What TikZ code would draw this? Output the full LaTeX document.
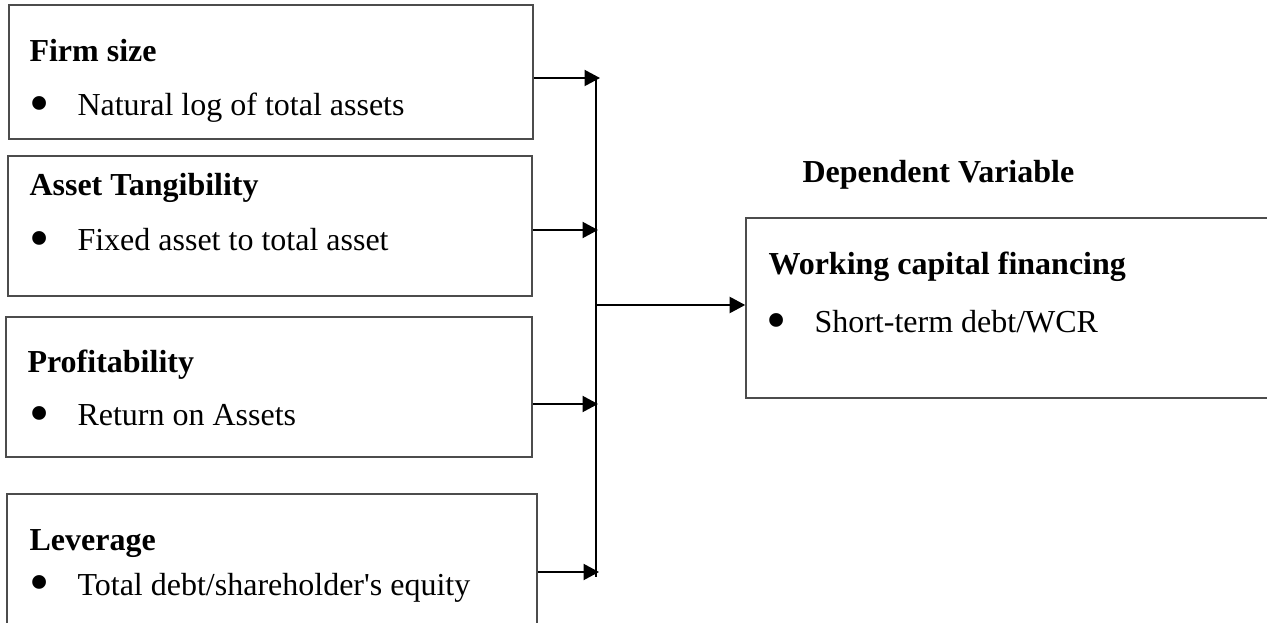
\documentclass[tikz,border=0pt]{standalone}
\usepackage{graphicx}
\usepackage{fontspec}
\setmainfont{Liberation Serif}
\usetikzlibrary{arrows.meta, positioning, fit}

\newcommand{\itm}[1]{\makebox[18pt][l]{\raisebox{-2.6pt}{\scalebox{1.8}{\textbullet}}}#1}

\begin{document}
\begin{tikzpicture}[x=0.375pt, y=-0.375pt, >={Triangle[length=5.8pt,width=6pt]},
  box/.style={draw=black!70, line width=0.6pt, inner sep=0pt},
  head/.style={anchor=base west, inner sep=0pt, font=\fontsize{12}{14}\selectfont\bfseries},
  item/.style={anchor=base west, inner sep=0pt, font=\fontsize{12}{14}\selectfont},
  link/.style={->, line width=0.75pt}]
  \useasboundingbox (0,0) rectangle (1267,623);
  % independent variables
  \node[box, fit={(9,5) (533,139)}] (size) {};
  \node[head] (sizeh) at (29,62) {Firm size};
  \node[item] (sizei) at (29,116) {\itm{Natural log of total assets}};
  \node[box, fit={(8,156) (532,296)}] (tang) {};
  \node[head] (tangh) at (29,196) {Asset Tangibility};
  \node[item] (tangi) at (29,251) {\itm{Fixed asset to total asset}};
  \node[box, fit={(6,317) (532,457)}] (prof) {};
  \node[head] (profh) at (27,373) {Profitability};
  \node[item] (profi) at (29,426) {\itm{Return on Assets}};
  \node[box, fit={(7,494) (537,660)}] (lev) {};
  \node[head] (levh) at (29,550) {Leverage};
  \node[item] (levi) at (29,595) {\itm{Total debt/shareholder\textquotesingle s equity}};
  % dependent variable
  \node[head] (dep) at (802,183) {Dependent Variable};
  \node[box, fit={(746,218) (1290,398)}] (wcf) {};
  \node[head] (wcfh) at (768,275) {Working capital financing};
  \node[item] (wcfi) at (766,333) {\itm{Short-term debt/WCR}};
  % bus
  \coordinate (top) at (596,78);
  \coordinate (bot) at (596,577);
  \coordinate (mid) at (596,305);
  \coordinate (b1) at (600,78);
  \coordinate (b2) at (598,230);
  \coordinate (b3) at (598,404);
  \coordinate (b4) at (599,572);
  \draw[line width=0.75pt] (top) -- (bot);
  \draw[link] (size.east |- b1) -- (b1);
  \draw[link] (tang.east |- b2) -- (b2);
  \draw[link] (prof.east |- b3) -- (b3);
  \draw[link] (lev.east |- b4) -- (b4);
  \draw[link] (mid) -- (wcf.west |- mid);
\end{tikzpicture}
\end{document}
